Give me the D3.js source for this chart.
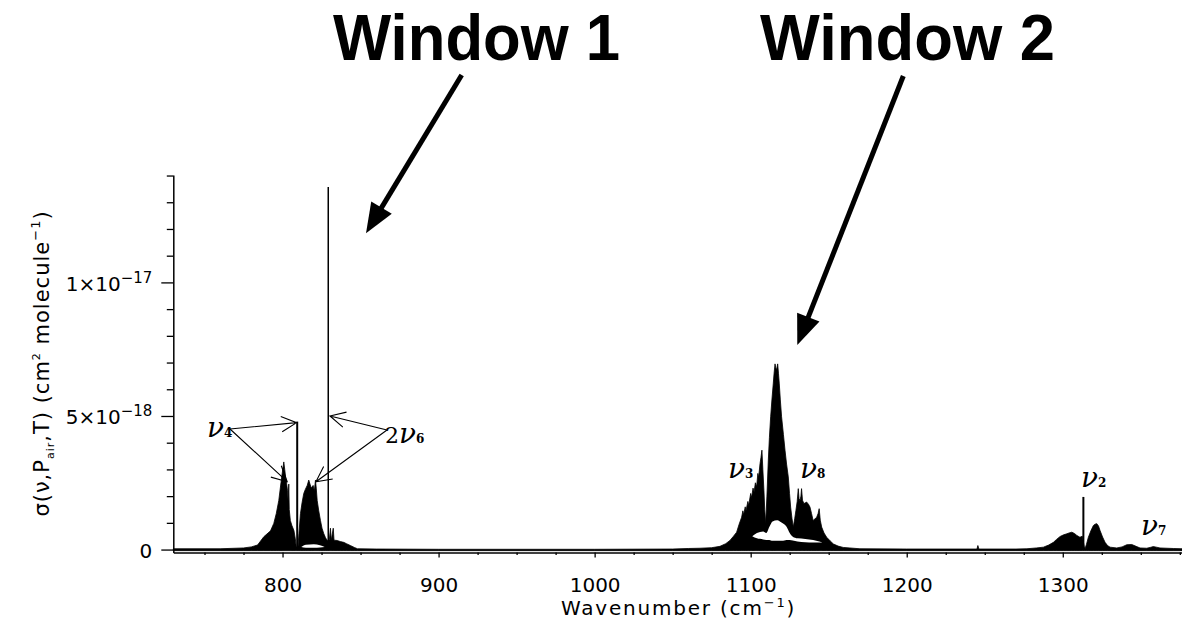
<!DOCTYPE html>
<html>
<head>
<meta charset="utf-8">
<script src="https://cdn.jsdelivr.net/npm/d3@7"></script>
<style>
  body { margin: 0; background: #fff; }
  svg { display: block; }
</style>
</head>
<body>
<svg id="chart" width="1182" height="630"></svg>
<script>
// absorption cross section, in units of 1e-18 cm^2 molecule^-1
// [wavenumber (cm-1), upper envelope]
var spectrum = [
    [730, 0.03], [760, 0.03], [775, 0.06], [780, 0.1], [784, 0.17], [788, 0.48],
    [792.3, 0.7], [794.4, 0.98], [796, 1.35], [797.6, 1.84], [799, 2.5], [799.8, 2.86],
    [800.4, 3.1], [800.8, 3.28], [801.4, 3.0], [802, 2.7], [802.6, 2.48], [803.2, 2.2],
    [803.6, 1.8], [804, 2.45], [804.3, 1.5], [805, 1.09], [806, 0.9], [807.3, 0.71],
    [808.2, 0.4], [808.8, 0.1], [809.9, 0.1], [810.5, 0.6], [811.5, 1.35], [812.5, 1.75],
    [813.6, 2.1], [814.6, 2.25], [815.8, 2.4], [816.8, 2.6], [817.6, 2.45], [818.4, 2.3],
    [819.6, 2.4], [820.4, 2.2], [821.1, 2.6], [821.6, 2.3], [822.2, 1.84], [823.2, 1.45],
    [824.3, 1.09], [825.3, 0.8], [826.4, 0.6], [827.5, 0.45], [828.6, 0.34], [830, 0.38],
    [830.7, 0.8], [831.2, 0.35], [832.5, 0.8], [833, 0.35], [835, 0.34], [837, 0.3],
    [839.2, 0.27], [841, 0.22], [843.5, 0.15], [846, 0.08], [848, 0.03], [860, 0.02],
    [900, 0.01], [1000, 0.01], [1050, 0.02], [1060, 0.04], [1067.5, 0.05], [1075, 0.07],
    [1080.3, 0.12], [1084, 0.22], [1086.7, 0.34], [1089, 0.5], [1091, 0.65], [1092.6, 0.95],
    [1094.2, 1.21], [1095, 1.45], [1095.5, 1.3], [1096.5, 1.6], [1097, 1.45], [1098.2, 1.8],
    [1098.7, 1.65], [1100, 2.1], [1100.6, 1.95], [1101.5, 2.3], [1102.2, 2.15], [1103, 2.5],
    [1103.8, 2.35], [1104.6, 2.85], [1105.1, 2.7], [1106, 3.22], [1106.6, 3.45], [1107.2, 3.72],
    [1107.8, 3.0], [1108.5, 2.2], [1109, 1.5], [1109.6, 0.97], [1110.4, 2.0], [1111.3, 3.35],
    [1112, 4.2], [1112.8, 4.97], [1113.6, 5.6], [1114.5, 6.23], [1115, 6.6], [1115.6, 6.95],
    [1116.1, 6.8], [1116.6, 6.73], [1117.3, 6.95], [1117.8, 6.6], [1118.3, 6.23], [1119, 5.6],
    [1119.8, 4.97], [1121, 4.3], [1122, 3.72], [1123, 3.2], [1124.1, 2.72], [1124.9, 2.1],
    [1125.6, 1.59], [1126.5, 1.15], [1127.3, 0.84], [1128.2, 1.15], [1129, 1.47], [1129.8, 1.8],
    [1130.5, 2.28], [1131, 1.9], [1131.6, 1.84], [1132.2, 2.0], [1132.6, 2.28], [1133.2, 1.85],
    [1134.1, 1.72], [1135, 1.75], [1135.8, 1.78], [1137, 1.7], [1138, 1.59], [1139, 1.35],
    [1140, 1.09], [1141.2, 1.15], [1142.3, 1.21], [1143.2, 1.35], [1143.9, 1.53], [1144.6, 1.1],
    [1145.5, 0.84], [1147, 0.62], [1148.7, 0.46], [1151, 0.32], [1153, 0.21], [1156, 0.13],
    [1159.3, 0.08], [1170, 0.03], [1200, 0.02], [1245, 0.02], [1245.6, 0.15], [1246.2, 0.02],
    [1270, 0.02], [1277, 0.03], [1283, 0.06], [1287.6, 0.09], [1291, 0.17], [1294, 0.27],
    [1296, 0.38], [1298.3, 0.49], [1300.5, 0.55], [1302.6, 0.59], [1304, 0.62], [1305.8, 0.65],
    [1307.5, 0.6], [1309, 0.53], [1311, 0.46], [1312.5, 0.5], [1313.8, 0.1], [1314.3, 0.04],
    [1315.2, 0.2], [1316.4, 0.46], [1318, 0.7], [1319.6, 0.9], [1320.7, 0.95], [1321.8, 0.97],
    [1322.9, 0.88], [1323.9, 0.71], [1325.5, 0.47], [1327.1, 0.27], [1328.7, 0.15], [1330.3, 0.09],
    [1334.6, 0.06], [1338, 0.1], [1341, 0.18], [1344.2, 0.19], [1347, 0.12], [1349.5, 0.06],
    [1353.8, 0.05], [1356, 0.08], [1358, 0.11], [1360, 0.09], [1362.3, 0.06], [1370.8, 0.04],
    [1376.4, 0.03]
];

// white space inside the bands, [wavenumber, lower, upper]
var gaps = [
    [812, 0.1, 0.1], [815, 0.07, 0.18], [820, 0.07, 0.2], [824, 0.08, 0.16], [827, 0.1, 0.1]
];
var gaps2 = [
    [1101, 0.5, 0.5], [1104, 0.42, 0.62], [1108, 0.38, 0.68], [1110, 0.36, 0.62],
    [1112, 0.36, 0.85], [1114, 0.33, 1.05], [1117, 0.33, 1.1], [1120, 0.33, 1.0], [1123, 0.36, 0.85],
    [1125, 0.36, 0.62], [1127, 0.34, 0.48], [1130, 0.3, 0.42], [1135, 0.27, 0.4], [1140, 0.26, 0.36],
    [1144, 0.26, 0.3], [1146, 0.27, 0.27]
];

// sharp Q branch lines, [wavenumber, peak]
var qLines = [[809.4, 4.79], [829.3, 13.57], [1313.2, 1.97]];

var xMajor = [800, 900, 1000, 1100, 1200, 1300];
var yMajor = [0, 5, 10];
var yLabels = ["0", "5×10|−18", "1×10|−17"];

var svg = d3.select("#chart");

var x = d3.scaleLinear().domain([730, 1376.4]).range([173.3, 1182]);
var y = d3.scaleLinear().domain([-0.11, 14.02]).range([552.5, 175]);

// spectrum
var area = d3.area()
    .x(function(d) { return x(d[0]); })
    .y0(y(-0.04))
    .y1(function(d) { return y(d[1]); });

svg.append("path")
    .datum(spectrum)
    .attr("d", area)
    .attr("fill", "#000")
    .attr("stroke", "#000")
    .attr("stroke-width", 0.8);

var gapArea = d3.area()
    .x(function(d) { return x(d[0]); })
    .y0(function(d) { return y(d[1]); })
    .y1(function(d) { return y(d[2]); })
    .curve(d3.curveMonotoneX);

[gaps, gaps2].forEach(function(g) {
    svg.append("path").datum(g).attr("d", gapArea).attr("fill", "#fff");
});

svg.selectAll("line.qline")
    .data(qLines)
    .enter().append("line")
    .attr("class", "qline")
    .attr("x1", function(d) { return x(d[0]); })
    .attr("x2", function(d) { return x(d[0]); })
    .attr("y1", y(0))
    .attr("y2", function(d) { return y(d[1]); })
    .attr("stroke", "#000")
    .attr("stroke-width", function(d) { return d[1] > 10 ? 1.5 : 2; });

// axes
var tickFont = "'DejaVu Sans', sans-serif";

var xAxis = svg.append("g")
    .attr("transform", "translate(0," + y.range()[0] + ")")
    .call(d3.axisBottom(x).tickValues(xMajor).tickSize(5).tickPadding(20).tickSizeOuter(0).tickFormat(d3.format("d")));
xAxis.append("g")
    .attr("class", "minor")
    .call(d3.axisBottom(x).tickValues(d3.range(750, 1376, 25).filter(function(v) { return v % 100; }))
        .tickSize(2.5).tickSizeOuter(0).tickFormat(""))
    .select(".domain").remove();

var yAxis = svg.append("g")
    .attr("transform", "translate(" + x.range()[0] + ",0)")
    .call(d3.axisLeft(y).tickValues(yMajor).tickSize(12).tickPadding(9).tickSizeOuter(0));
yAxis.append("g")
    .attr("class", "minor")
    .call(d3.axisLeft(y).tickValues(d3.range(1, 15).filter(function(v) { return v % 5; }))
        .tickSize(6.5).tickSizeOuter(0).tickFormat(""))
    .select(".domain").remove();

svg.selectAll(".domain").attr("stroke-width", 1.5).attr("stroke", "#000");
svg.selectAll(".tick line").attr("stroke-width", 1.3).attr("stroke", "#000");
svg.selectAll(".tick text")
    .attr("font-family", tickFont)
    .attr("font-size", 20)
    .attr("fill", "#000");

yAxis.selectAll(".tick text").each(function(d) {
    var i = yMajor.indexOf(d);
    if (i < 0) return;
    var parts = yLabels[i].split("|");
    var t = d3.select(this).text(null).attr("dy", "0.4em");
    t.append("tspan").text(parts[0]);
    if (parts[1]) {
        t.append("tspan").attr("dy", "-0.55em").attr("font-size", 15).text(parts[1]);
    }
});

// axis titles
var xTitle = svg.append("text")
    .attr("x", 678.5).attr("y", 615)
    .attr("text-anchor", "middle")
    .attr("font-family", tickFont).attr("font-size", 20)
    .attr("letter-spacing", 1.8);
xTitle.append("tspan").text("Wavenumber (cm");
xTitle.append("tspan").attr("dy", -8).attr("font-size", 13).text("−1");
xTitle.append("tspan").attr("dy", 8).text(")");

var yTitle = svg.append("text")
    .attr("transform", "translate(49,363.5) rotate(-90)")
    .attr("text-anchor", "middle")
    .attr("font-family", tickFont).attr("font-size", 21)
    .attr("letter-spacing", 1);
yTitle.append("tspan").text("σ(ν,P");
yTitle.append("tspan").attr("dy", 5).attr("font-size", 11).text("air");
yTitle.append("tspan").attr("dy", -5).text(",T)  (cm");
yTitle.append("tspan").attr("dy", -9).attr("font-size", 11).text("2");
yTitle.append("tspan").attr("dy", 9).text(" molecule");
yTitle.append("tspan").attr("dy", -9).attr("font-size", 13).text("−1");
yTitle.append("tspan").attr("dy", 9).text(")");

// band labels
var bandLabels = [
    { pre: "", sub: "4", px: 207, py: 437 },
    { pre: "2", sub: "6", px: 385, py: 443 },
    { pre: "", sub: "3", px: 728, py: 478 },
    { pre: "", sub: "8", px: 800, py: 478 },
    { pre: "", sub: "2", px: 1081, py: 487 },
    { pre: "", sub: "7", px: 1141, py: 535 }
];
bandLabels.forEach(function(b) {
    var t = svg.append("text")
        .attr("x", b.px).attr("y", b.py)
        .attr("font-family", "'DejaVu Serif', serif");
    if (b.pre) t.append("tspan").attr("font-size", 22).text(b.pre);
    t.append("tspan").attr("font-size", 28).attr("font-style", "italic").text("ν");
    t.append("tspan").attr("font-size", 12).attr("font-weight", "bold").text(b.sub);
});

// open arrows from band labels to features, tips in data units
var pointers = [
    { from: [230, 429], to: [809.0, 4.75] },
    { from: [230, 429], to: [803.0, 2.54] },
    { from: [387, 430], to: [830.4, 5.0] },
    { from: [387, 430], to: [821.4, 2.54] }
];

function openHead(sx, sy, tx, ty, len, ang) {
    var a = Math.atan2(ty - sy, tx - sx);
    var p1 = [tx - len * Math.cos(a - ang), ty - len * Math.sin(a - ang)];
    var p2 = [tx - len * Math.cos(a + ang), ty - len * Math.sin(a + ang)];
    return "M" + p1 + "L" + tx + "," + ty + "L" + p2;
}

pointers.forEach(function(p) {
    var tx = x(p.to[0]), ty = y(p.to[1]);
    svg.append("path")
        .attr("d", "M" + p.from + "L" + tx + "," + ty + openHead(p.from[0], p.from[1], tx, ty, 17, 0.47))
        .attr("fill", "none")
        .attr("stroke", "#000")
        .attr("stroke-width", 1.1);
});

// window titles with heavy arrows
var windows = [
    { text: "Window 1", px: 333, py: 60, len: 287, from: [461.7, 75], to: [366, 233.3] },
    { text: "Window 2", px: 760, py: 60, len: 295, from: [903.3, 76], to: [797.3, 345] }
];
windows.forEach(function(w) {
    svg.append("text")
        .attr("x", w.px).attr("y", w.py)
        .attr("font-family", "'Liberation Sans', Arial, sans-serif")
        .attr("font-weight", "bold")
        .attr("font-size", 65)
        .attr("textLength", w.len)
        .attr("lengthAdjust", "spacingAndGlyphs")
        .text(w.text);

    var a = Math.atan2(w.to[1] - w.from[1], w.to[0] - w.from[0]);
    var headLen = 30, headW = 12;
    var bx = w.to[0] - headLen * Math.cos(a), by = w.to[1] - headLen * Math.sin(a);
    svg.append("line")
        .attr("x1", w.from[0]).attr("y1", w.from[1])
        .attr("x2", bx + 2 * Math.cos(a)).attr("y2", by + 2 * Math.sin(a))
        .attr("stroke", "#000").attr("stroke-width", 5);
    svg.append("path")
        .attr("d", "M" + w.to + "L" + (bx + headW * Math.sin(a)) + "," + (by - headW * Math.cos(a)) +
            "L" + (bx - headW * Math.sin(a)) + "," + (by + headW * Math.cos(a)) + "Z")
        .attr("fill", "#000");
});
</script>
</body>
</html>
